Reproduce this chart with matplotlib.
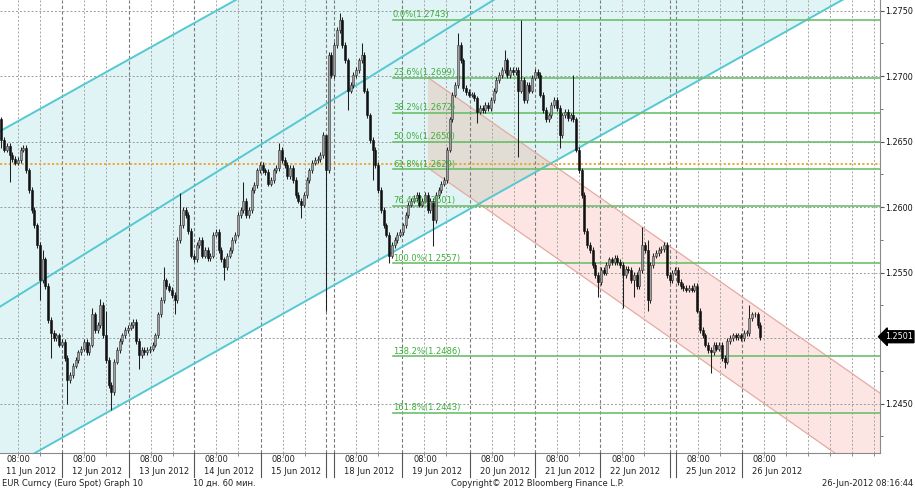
import matplotlib
matplotlib.use("Agg")
import matplotlib.pyplot as plt
import matplotlib.transforms as mtransforms
from matplotlib.patches import Polygon
import numpy as np

# ---------------- data (hourly EUR/USD closes) ----------------
first_open = 1.2667
closes_a = [1.2651, 1.2644, 1.2647, 1.2640, 1.2637, 1.2634, 1.2636, 1.2644, 1.2645, 1.2628,
            1.2613, 1.2598, 1.2586, 1.2571, 1.2544, 1.2560, 1.2540, 1.2514, 1.2504, 1.2500,
            1.2502, 1.2495, 1.2497, 1.2485, 1.2468, 1.2472, 1.2479, 1.2483, 1.2489, 1.2492,
            1.2497, 1.2489, 1.2495, 1.2518, 1.2506, 1.2510, 1.2525, 1.2502, 1.2483, 1.2464,
            1.2459, 1.2482, 1.2491, 1.2498, 1.2502, 1.2506, 1.2508, 1.2510]
closes_b = [1.2512, 1.2498, 1.2487, 1.2491, 1.2489, 1.2491, 1.2492, 1.2495, 1.2502, 1.2518,
            1.2529, 1.2544, 1.2540, 1.2537, 1.2533, 1.2529, 1.2575, 1.2586, 1.2598, 1.2594,
            1.2582, 1.2563, 1.2560, 1.2571, 1.2575, 1.2563, 1.2567, 1.2561, 1.2563, 1.2579,
            1.2581, 1.2567, 1.2560, 1.2554, 1.2563, 1.2567, 1.2575, 1.2579, 1.2594, 1.2598,
            1.2605, 1.2594, 1.2598, 1.2613, 1.2617, 1.2628, 1.2632, 1.2628]
closes_c = [1.2627, 1.2618, 1.2621, 1.2628, 1.2630, 1.2644, 1.2636, 1.2632, 1.2624, 1.2630,
            1.2621, 1.2609, 1.2605, 1.2602, 1.2609, 1.2621, 1.2628, 1.2634, 1.2636, 1.2637,
            1.2640, 1.2655, 1.2628, 1.2716, 1.2701, 1.2724, 1.2735, 1.2743, 1.2724, 1.2712,
            1.2689, 1.2693, 1.2701, 1.2705, 1.2712, 1.2716, 1.2689, 1.2670, 1.2651, 1.2644,
            1.2632, 1.2613, 1.2598, 1.2586, 1.2579, 1.2563, 1.2571, 1.2575]
closes_d = [1.2579, 1.2581, 1.2586, 1.2594, 1.2602, 1.2605, 1.2607, 1.2609, 1.2602, 1.2605,
            1.2609, 1.2598, 1.2605, 1.2590, 1.2609, 1.2613, 1.2618, 1.2621, 1.2644, 1.2667,
            1.2686, 1.2693, 1.2724, 1.2712, 1.2691, 1.2688, 1.2686, 1.2686, 1.2683, 1.2673,
            1.2676, 1.2674, 1.2678, 1.2676, 1.2682, 1.2689, 1.2697, 1.2701, 1.2705, 1.2712,
            1.2701, 1.2705, 1.2703, 1.2705, 1.2689, 1.2697, 1.2682]
closes_e = [1.2693, 1.2689, 1.2699, 1.2703, 1.2701, 1.2686, 1.2674, 1.2667, 1.2670, 1.2678,
            1.2682, 1.2676, 1.2655, 1.2670, 1.2673, 1.2668, 1.2670, 1.2667, 1.2644, 1.2628,
            1.2609, 1.2582, 1.2571, 1.2567, 1.2556, 1.2548, 1.2543, 1.2552, 1.2550, 1.2556,
            1.2560, 1.2558, 1.2561, 1.2558, 1.2556, 1.2548, 1.2553, 1.2552, 1.2544, 1.2548,
            1.2540, 1.2552, 1.2571, 1.2567]
closes_f = [1.2529, 1.2556, 1.2563, 1.2565, 1.2567, 1.2568, 1.2571, 1.2548, 1.2544, 1.2550,
            1.2552, 1.2543, 1.2540, 1.2538, 1.2537, 1.2538, 1.2537, 1.2540, 1.2521, 1.2506,
            1.2502, 1.2495, 1.2491, 1.2489, 1.2495, 1.2492, 1.2495, 1.2485, 1.2482, 1.2498,
            1.2500, 1.2502, 1.2501, 1.2502, 1.2500, 1.2504, 1.2504, 1.2515, 1.2518, 1.2518,
            1.2510, 1.2501]

# notable wick extremes: bar index -> price
spike_highs = {0: 1.2669, 15: 1.2567, 33: 1.2523, 36: 1.2530, 38: 1.2521, 59: 1.2554,
               65: 1.2611, 88: 1.2619, 101: 1.2649, 118: 1.2651, 123: 1.2748, 131: 1.2725,
               166: 1.2733, 183: 1.2720, 189: 1.2743, 208: 1.2701, 233: 1.2585, 235: 1.2575,
               272: 1.2525}
spike_lows = {0: 1.2645, 3: 1.2619, 14: 1.2529, 18: 1.2485, 24: 1.2450, 40: 1.2445,
              50: 1.2476, 63: 1.2518, 81: 1.2544, 109: 1.2592, 118: 1.2521, 126: 1.2674,
              135: 1.2621, 141: 1.2557, 157: 1.2570, 173: 1.2664, 188: 1.2638, 203: 1.2645,
              217: 1.2531, 226: 1.2523, 230: 1.2531, 235: 1.2521, 258: 1.2473, 263: 1.2477}

fib_pcts = ["0.0%", "23.6%", "38.2%", "50.0%", "61.8%", "76.4%", "100.0%", "138.2%", "161.8%"]
fib_levels = [1.2743, 1.2699, 1.2672, 1.2650, 1.2629, 1.2601, 1.2557, 1.2486, 1.2443]
fib_start_bar = 142.4
orange_level = 1.2633
price_ticks = [1.2450, 1.2500, 1.2550, 1.2600, 1.2650, 1.2700, 1.2750]
last_price = 1.2501

day_labels = ["11 Jun 2012", "12 Jun 2012", "13 Jun 2012", "14 Jun 2012", "15 Jun 2012",
              "18 Jun 2012", "19 Jun 2012", "20 Jun 2012", "21 Jun 2012", "22 Jun 2012",
              "25 Jun 2012", "26 Jun 2012"]
day_starts = [-2.0, 22.0, 46.4, 70.0, 94.4, 120.9, 145.7, 170.4, 194.0, 217.7, 245.3, 269.3]
weekend_seps = [118.0, 243.1]
hour_label = "08:00"

# trend channel anchors (bar, price)
cyan_top = [(-0.5, 1.2658), (85.0, 1.2758)]
cyan_mid = [(-0.5, 1.2524), (178.8, 1.2758)]
cyan_bot = [(46.8, 1.2453), (237.7, 1.2678)]
pink_top = [(155.1, 1.2699), (319.5, 1.2458)]
pink_bot = [(155.1, 1.2630), (319.5, 1.2388)]

# ---------------- figure ----------------
W, H = 915, 488
fig = plt.figure(figsize=(W / 100, H / 100), dpi=100)
plot_right_px, plot_bottom_px = 880, 453
ax = fig.add_axes([0, (H - plot_bottom_px) / H, plot_right_px / W, plot_bottom_px / H])
xmin, xmax = -0.51, 319.5
ymin, ymax = 1.24122, 1.27582
ax.set_xlim(xmin, xmax)
ax.set_ylim(ymin, ymax)


def line_at(anchors, x):
    (x0, y0), (x1, y1) = anchors
    return y0 + (y1 - y0) * (np.asarray(x) - x0) / (x1 - x0)


xs = np.array([xmin, xmax])
# cyan channel fill
ax.fill_between(xs, line_at(cyan_bot, xs), line_at(cyan_top, xs),
                color="#e0f4f6", lw=0, zorder=0)
cyan_poly = Polygon([(xmin, line_at(cyan_bot, xmin)), (xmax, line_at(cyan_bot, xmax)),
                     (xmax, line_at(cyan_top, xmax)), (xmin, line_at(cyan_top, xmin))],
                    closed=True, transform=ax.transData)
# pink channel
px0, px1 = pink_top[0][0], xmax
pink_pts = [(px0, line_at(pink_top, px0)), (px1, line_at(pink_top, px1)),
            (px1, line_at(pink_bot, px1)), (px0, line_at(pink_bot, px0))]
ax.add_patch(Polygon(pink_pts, closed=True, fc="#fce5e2", ec="none", zorder=0.2))
overlap = Polygon(pink_pts, closed=True, fc="#e1dcd4", ec="none", zorder=0.3)
ax.add_patch(overlap)
overlap.set_clip_path(cyan_poly)
ax.plot([px0, px1], [line_at(pink_top, px0), line_at(pink_top, px1)], color="#e6aaa3", lw=0.9, zorder=1.5)
ax.plot([px0, px1], [line_at(pink_bot, px0), line_at(pink_bot, px1)], color="#e6aaa3", lw=0.9, zorder=1.5)

# grid
for p in price_ticks:
    ax.axhline(p, color="#9a9a9a", lw=0.7, ls=(0, (2, 2)), zorder=1)
grid_x = []
for s in day_starts:
    for k in (0, 8, 16):
        grid_x.append(s + k)
g = day_starts[-1] + 24
while g < xmax:
    grid_x.append(g)
    g += 8
for gx in grid_x:
    if xmin < gx < xmax:
        is_sep = gx in day_starts
        ax.axvline(gx, color="#7a7a7a" if is_sep else "#a5a5a5", lw=0.8 if is_sep else 0.7,
                   ls=(0, (3, 2)) if is_sep else (0, (2, 2)), zorder=1)
for wsep in weekend_seps:
    ax.axvline(wsep, color="#7a7a7a", lw=0.8, ls=(0, (3, 2)), zorder=1)

# channel lines
for anc in (cyan_top, cyan_mid, cyan_bot):
    ax.plot(xs, line_at(anc, xs), color="#55c8d2", lw=1.4, zorder=1.6)

# orange horizontal
ax.axhline(orange_level, color="#f0a02a", lw=1.3, ls=(0, (1.2, 1.2)), zorder=1.7)

# fib levels
for pct, lvl in zip(fib_pcts, fib_levels):
    ax.plot([fib_start_bar, xmax], [lvl, lvl], color="#6cc06c", lw=1.2, zorder=1.8)
    ax.text(fib_start_bar, lvl + 0.00005, f"{pct}({lvl:.4f})", color="#3cae3c", fontsize=6,
            ha="left", va="bottom", zorder=5)

# candles
closes = np.array(closes_a + closes_b + closes_c + closes_d + closes_e + closes_f)
opens = np.concatenate([[first_open], closes[:-1]])
n = len(closes)
idx = np.arange(n)
wick_pad = 0.00022
highs = np.maximum(opens, closes) + wick_pad
lows = np.minimum(opens, closes) - wick_pad
for k, v in spike_highs.items():
    highs[k] = v
for k, v in spike_lows.items():
    lows[k] = v
up = closes >= opens
ax.vlines(idx, lows, highs, color="#202020", lw=0.75, zorder=3)
body_bottom = np.minimum(opens, closes)
body_h = np.maximum(np.abs(closes - opens), 0.00004)
ax.bar(idx[up], body_h[up], bottom=body_bottom[up], width=0.75, color="#a0a0a0",
       edgecolor="#333333", linewidth=0.4, zorder=3.2)
ax.bar(idx[~up], body_h[~up], bottom=body_bottom[~up], width=0.75, color="#111111",
       edgecolor="#111111", linewidth=0.4, zorder=3.2)

# axes styling
for side in ("left", "top"):
    ax.spines[side].set_visible(False)
ax.spines["right"].set_color("#8a8a8a")
ax.spines["bottom"].set_color("#8a8a8a")
ax.yaxis.tick_right()
ax.set_yticks(price_ticks)
ax.set_yticklabels([("" if abs(p - 1.25) < 1e-9 else f"{p:.4f}") for p in price_ticks])
ax.set_yticks(np.arange(1.2425, 1.2760, 0.0025), minor=True)
ax.tick_params(axis="y", which="major", length=3, width=0.8, color="#555555", pad=0.8,
               labelsize=5.8, labelcolor="#111111")
ax.tick_params(axis="y", which="minor", length=2.5, width=0.7, color="#777777")
ax.set_xticks([gx for gx in grid_x if xmin < gx < xmax])
ax.set_xticklabels([])
ax.tick_params(axis="x", which="major", length=2.5, width=0.6, color="#777777")

# last price marker
trans_fy = mtransforms.blended_transform_factory(fig.transFigure, ax.transData)
ax.text(912.5 / W, last_price, f"{last_price:.4f}", transform=trans_fy, color="white", fontsize=5.8,
        ha="right", va="center", zorder=10, clip_on=False,
        bbox=dict(boxstyle="larrow,pad=0.18", fc="black", ec="black"))

# x labels
trans_x = ax.get_xaxis_transform()
ax_h = plot_bottom_px
for lab, s in zip(day_labels, day_starts):
    ax.text(s + 4.0, (plot_bottom_px - 459) / ax_h, hour_label, transform=trans_x, fontsize=6,
            ha="left", va="center", color="#222222", clip_on=False)
    ax.text(s + 3.6, (plot_bottom_px - 471) / ax_h, lab, transform=trans_x, fontsize=6,
            ha="left", va="center", color="#222222", clip_on=False)
for s in day_starts[1:] + weekend_seps:
    ax.plot([s, s], [0, (plot_bottom_px - 477) / ax_h], transform=trans_x, color="#555555",
            lw=0.8, clip_on=False, zorder=4)

# footer
fy = 1 - 483 / H
fig.text(2 / W, fy, "EUR Curncy (Euro Spot) Graph 10", fontsize=6, va="center", ha="left", color="#222222")
fig.text(193 / W, fy, "10 дн. 60 мин.", fontsize=6, va="center", ha="left", color="#222222")
fig.text(451 / W, fy, "Copyright\u00a9 2012 Bloomberg Finance L.P.", fontsize=6, va="center", ha="left", color="#222222")
fig.text(913 / W, fy, "26-Jun-2012 08:16:44", fontsize=6, va="center", ha="right", color="#222222")

fig.savefig("out.png", dpi=100)
